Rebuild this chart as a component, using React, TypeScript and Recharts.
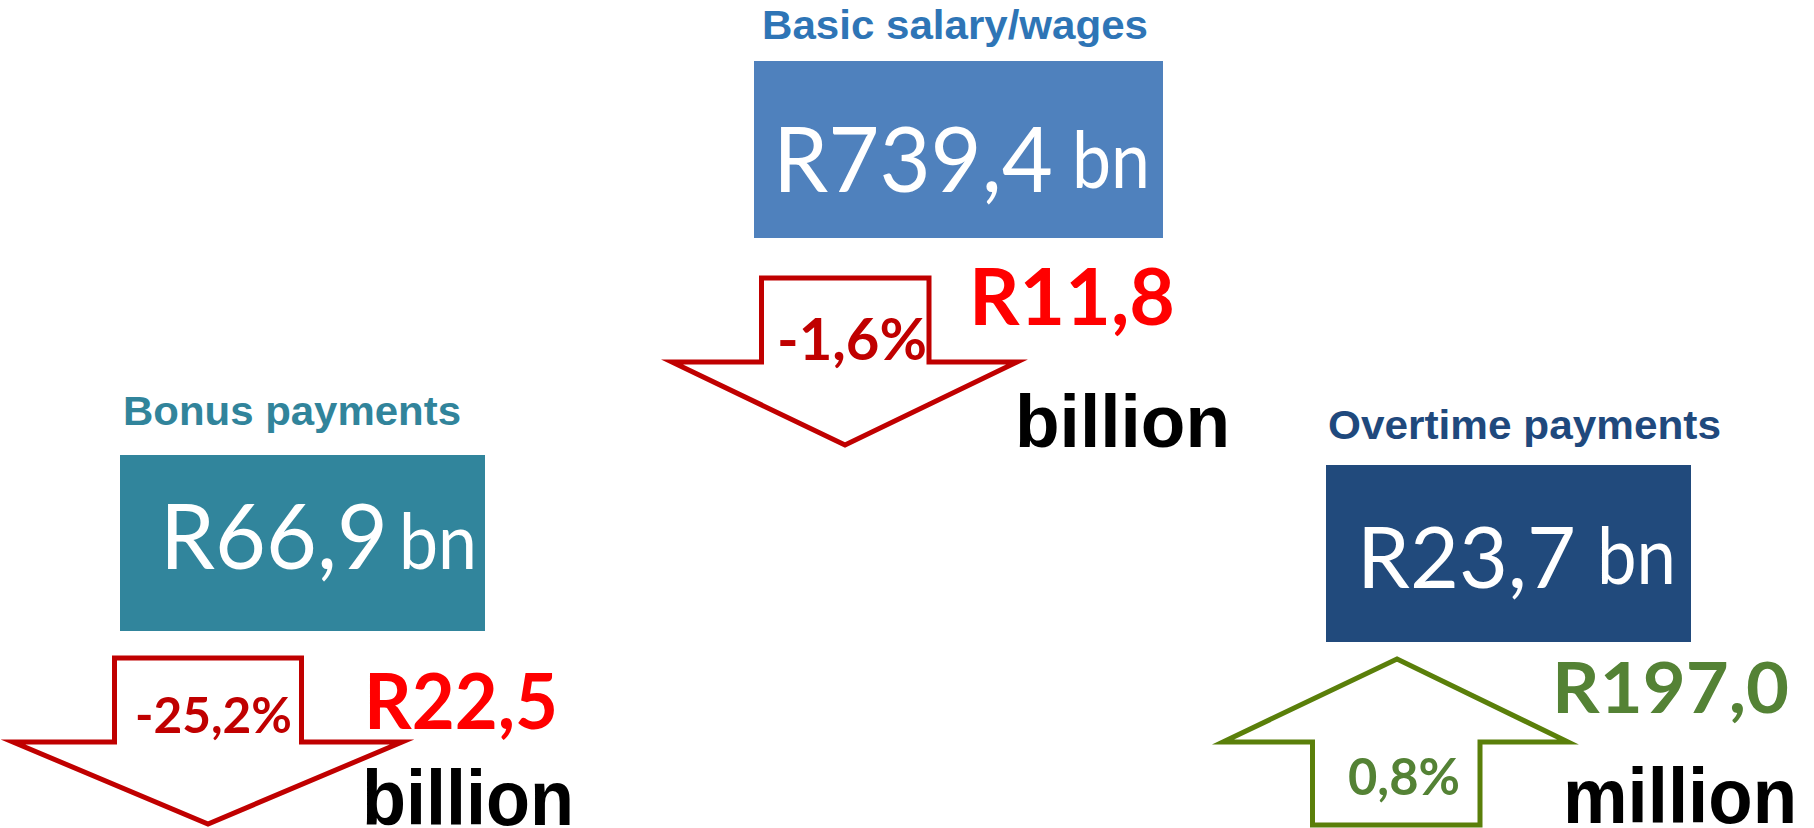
import React from 'react';
import { ScatterChart, Scatter, XAxis, YAxis } from 'recharts';

// ---------- data ----------
const categories = ['Basic salary/wages', 'Bonus payments', 'Overtime payments'];
const totalsBn = [739.4, 66.9, 23.7];
const totalUnits = ['bn', 'bn', 'bn'];
const pctChanges = [-1.6, -25.2, 0.8];
const changeAmounts = [11.8, 22.5, 197.0];
const changeUnits = ['billion', 'billion', 'million'];

// ---------- layout (design pixels, separate from data) ----------
const anchorX = [754, 120, 1326];
const anchorY = [61, 455, 465];

const layouts = [
  {
    box: { x: 754, y: 61, w: 409, h: 177 },
    title: { x: 762, y: 39, w: 386, size: 41 },
    value: { x: 773, y: 192, w: 280, size: 91 },
    unit: { x: 1072, y: 188, w: 78, size: 79 },
    arrow: { sL: 761.5, sR: 929, end: 278, head: 362, lT: 672, rT: 1017, tipX: 845, tipY: 445 },
    pct: { x: 777, y: 360, w: 150, size: 58 },
    amount: { x: 969, y: 325, w: 206, size: 78 },
    word: { x: 1015, y: 447, w: 215, size: 75 },
  },
  {
    box: { x: 120, y: 455, w: 365, h: 176 },
    title: { x: 123, y: 425, w: 338, size: 41 },
    value: { x: 160, y: 569, w: 228, size: 92 },
    unit: { x: 399, y: 569, w: 78, size: 78 },
    arrow: { sL: 114.5, sR: 301.5, end: 658, head: 742, lT: 13, rT: 402, tipX: 208, tipY: 824 },
    pct: { x: 135, y: 733, w: 157, size: 50 },
    amount: { x: 364, y: 729, w: 194, size: 77 },
    word: { x: 362, y: 825, w: 212, size: 77 },
  },
  {
    box: { x: 1326, y: 465, w: 365, h: 177 },
    title: { x: 1328, y: 439, w: 393, size: 41 },
    value: { x: 1357, y: 588, w: 219, size: 85 },
    unit: { x: 1597, y: 584, w: 79, size: 79 },
    arrow: { sL: 1312.5, sR: 1480, end: 825, head: 742, lT: 1223, rT: 1568, tipX: 1397, tipY: 659 },
    pct: { x: 1348, y: 795, w: 112, size: 52 },
    amount: { x: 1552, y: 713, w: 237, size: 71 },
    word: { x: 1563, y: 823, w: 234, size: 77 },
  },
];

const titleColors = ['#2E75B6', '#31849B', '#1F497D'];
const boxColors = ['#4F81BD', '#31859C', '#214A7C'];
const downStroke = '#C00000';
const upStroke = '#5A7F0A';
const downPctColor = '#C00000';
const upPctColor = '#548235';
const downAmountColor = '#FF0000';
const upAmountColor = '#548235';

const fmt = (v: number) => v.toFixed(1).replace('.', ',');

const rows = categories.map((name, i) => ({
  name,
  x: anchorX[i],
  y: anchorY[i],
  total: totalsBn[i],
  unit: totalUnits[i],
  pct: pctChanges[i],
  amount: changeAmounts[i],
  amountUnit: changeUnits[i],
  layout: layouts[i],
  titleColor: titleColors[i],
  boxColor: boxColors[i],
}));

const SANS_BOLD = '"Liberation Sans", Arial, sans-serif';
const CAL = 'Lato, "Open Sans", sans-serif';

const FitText = ({ t, children, fill, family, weight }: any) => (
  <text
    x={t.x}
    y={t.y}
    fontSize={t.size}
    fontFamily={family}
    fontWeight={weight}
    fill={fill}
    textLength={t.w}
    lengthAdjust="spacingAndGlyphs"
  >
    {children}
  </text>
);

const Panel = (props: any) => {
  const { cx, cy, payload } = props;
  if (cx == null || cy == null || !payload) return <g />;
  const L = payload.layout;
  const dx = cx - L.box.x;
  const dy = cy - L.box.y;
  const up = payload.pct >= 0;
  const a = L.arrow;
  const d = up
    ? `M${a.tipX},${a.tipY} L${a.rT},${a.head} L${a.sR},${a.head} L${a.sR},${a.end} L${a.sL},${a.end} L${a.sL},${a.head} L${a.lT},${a.head} Z`
    : `M${a.sL},${a.end} L${a.sR},${a.end} L${a.sR},${a.head} L${a.rT},${a.head} L${a.tipX},${a.tipY} L${a.lT},${a.head} L${a.sL},${a.head} Z`;
  return (
    <g transform={`translate(${dx},${dy})`}>
      <FitText t={L.title} fill={payload.titleColor} family={SANS_BOLD} weight={700}>
        {payload.name}
      </FitText>
      <rect x={L.box.x} y={L.box.y} width={L.box.w} height={L.box.h} fill={payload.boxColor} />
      <FitText t={L.value} fill="#FFFFFF" family={CAL} weight={400}>
        {`R${fmt(payload.total)}`}
      </FitText>
      <FitText t={L.unit} fill="#FFFFFF" family={CAL} weight={400}>
        {payload.unit}
      </FitText>
      <path
        d={d}
        fill="#FFFFFF"
        stroke={up ? upStroke : downStroke}
        strokeWidth={5}
        strokeLinejoin="miter"
        strokeMiterlimit={12}
      />
      <FitText t={L.pct} fill={up ? upPctColor : downPctColor} family={CAL} weight={700}>
        {`${fmt(payload.pct)}%`}
      </FitText>
      <FitText t={L.amount} fill={up ? upAmountColor : downAmountColor} family={CAL} weight={700}>
        {`R${fmt(payload.amount)}`}
      </FitText>
      <FitText t={L.word} fill="#000000" family={SANS_BOLD} weight={700}>
        {payload.amountUnit}
      </FitText>
    </g>
  );
};

export default function App() {
  return (
    <div style={{ position: 'absolute', left: 0, top: 0, width: 1814, height: 828, background: '#FFFFFF' }}>
      <ScatterChart width={1814} height={828} margin={{ top: 0, right: 0, bottom: 0, left: 0 }}>
        <XAxis type="number" dataKey="x" domain={[0, 1814]} hide />
        <YAxis type="number" dataKey="y" domain={[0, 828]} reversed hide />
        <Scatter data={rows} isAnimationActive={false} shape={Panel} />
      </ScatterChart>
    </div>
  );
}
